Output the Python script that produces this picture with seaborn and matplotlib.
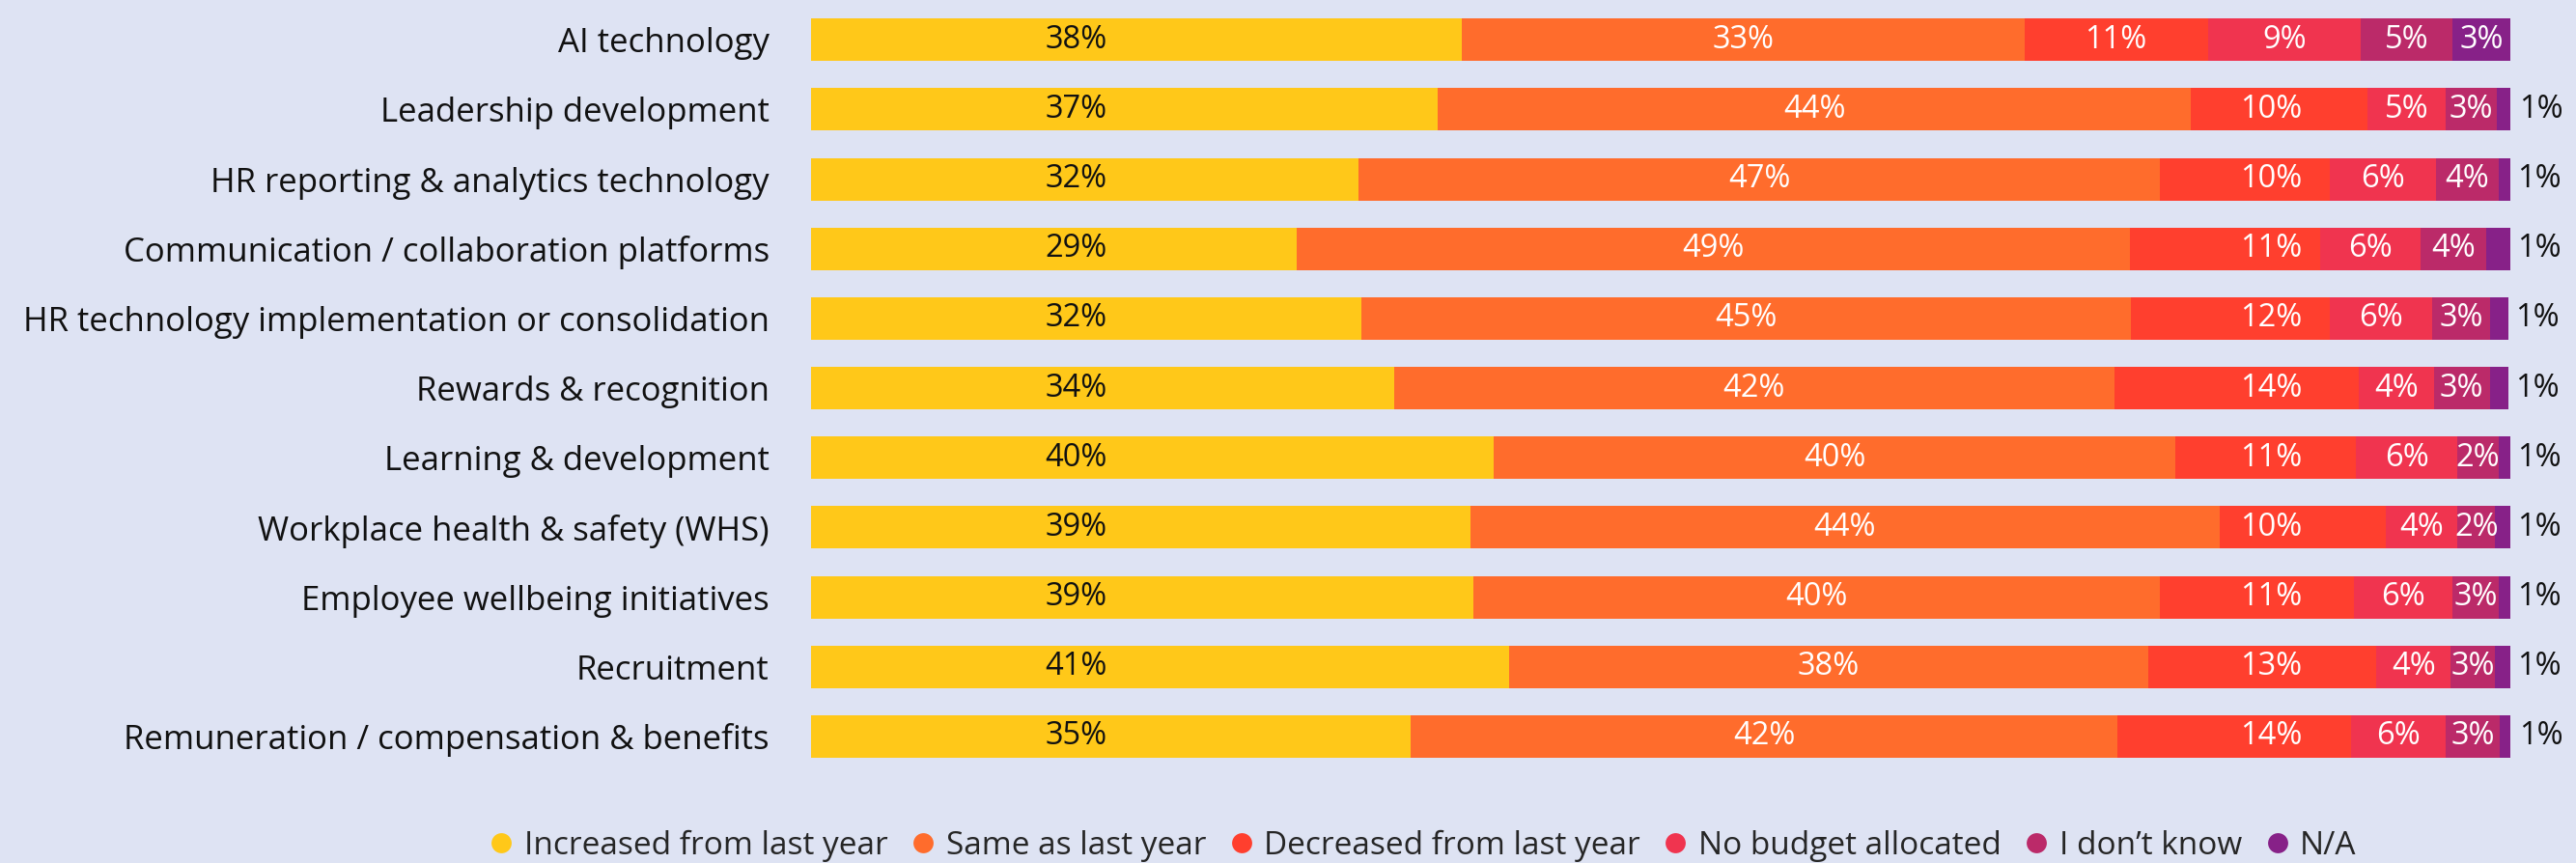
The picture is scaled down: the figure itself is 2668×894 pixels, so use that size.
import matplotlib
matplotlib.use("Agg")
import matplotlib.pyplot as plt
from matplotlib.lines import Line2D
import numpy as np
import pandas as pd
import seaborn as sns

# ---- data -------------------------------------------------------------
categories = [
    "AI technology",
    "Leadership development",
    "HR reporting & analytics technology",
    "Communication / collaboration platforms",
    "HR technology implementation or consolidation",
    "Rewards & recognition",
    "Learning & development",
    "Workplace health & safety (WHS)",
    "Employee wellbeing initiatives",
    "Recruitment",
    "Remuneration / compensation & benefits",
]
series_names = [
    "Increased from last year",
    "Same as last year",
    "Decreased from last year",
    "No budget allocated",
    "I don\u2019t know",
    "N/A",
]
increased = [38.3, 36.9, 32.2, 28.6, 32.4, 34.3, 40.2, 38.8, 39.0, 41.1, 35.3]
same = [33.1, 44.3, 47.2, 49.0, 45.3, 42.4, 40.1, 44.1, 40.4, 37.6, 41.6]
decreased = [10.8, 10.4, 10.0, 11.2, 11.7, 14.4, 10.6, 9.8, 11.4, 13.4, 13.7]
no_budget = [9.0, 4.6, 6.2, 5.9, 6.0, 4.4, 6.0, 4.2, 5.8, 4.4, 5.6]
dont_know = [5.4, 3.0, 3.7, 3.9, 3.4, 3.3, 2.4, 2.2, 2.7, 2.6, 3.2]
not_applicable = [3.4, 0.9, 0.7, 1.4, 1.1, 1.1, 0.7, 0.9, 0.7, 0.9, 0.7]

series_values = [increased, same, decreased, no_budget, dont_know, not_applicable]

# ---- style ------------------------------------------------------------
colors = ["#FFC819", "#FF6C2C", "#FF3F2E", "#F0344F", "#BB2A69", "#872188"]
text_colors = ["#111111", "white", "white", "white", "white", "white"]
bg = "#DEE3F3"
fs_cat = 25
fs_val = 23.5
fs_leg = 24

sns.set_theme(style="white")
plt.rcParams["font.family"] = ["Open Sans", "DejaVu Sans"]

fig = plt.figure(figsize=(26.68, 8.94), dpi=100, facecolor=bg)
ax = fig.add_axes([0.3148, 0.1063, 0.6597, 0.888])
ax.set_facecolor(bg)

vals = np.array(series_values, dtype=float)      # shape (series, categories)
cum = np.cumsum(vals, axis=0)

# stacked bars: draw cumulative totals from the outermost segment inwards
for i in range(len(series_names) - 1, -1, -1):
    df = pd.DataFrame({"category": categories, "total": cum[i]})
    sns.barplot(
        data=df, x="total", y="category", order=categories, orient="h",
        color=colors[i], saturation=1, width=0.61, linewidth=0,
        errorbar=None, ax=ax,
    )

# segment labels; first and third series sit in a shared column when it fits
label_columns = {0: 15.6, 2: 85.9}
for r in range(len(categories)):
    for i in range(len(series_names)):
        v = vals[i, r]
        left = cum[i, r] - v
        right = cum[i, r]
        txt = f"{v:.0f}%"
        if v < 2:
            ax.text(right + 0.4, r, txt, ha="left", va="center",
                    fontsize=fs_val, color="#111111")
            continue
        x = (left + right) / 2
        col = label_columns.get(i)
        if col is not None and left < col < right:
            x = col
        ax.text(x, r, txt, ha="center", va="center", fontsize=fs_val,
                color=text_colors[i])

ax.set_xlim(0, 100)
ax.set_ylim(len(categories) - 0.5, -0.5)
ax.set_xlabel("")
ax.set_ylabel("")
ax.set_xticks([])
ax.tick_params(axis="y", length=0, pad=31, labelsize=fs_cat, labelcolor="#111111")
for s in ax.spines.values():
    s.set_visible(False)

handles = [
    Line2D([], [], marker="o", linestyle="none", markersize=15,
           markerfacecolor=c, markeredgewidth=0)
    for c in colors
]
fig.legend(
    handles, series_names, loc="center", bbox_to_anchor=(0.5525, 0.02),
    ncol=len(series_names), frameon=False, fontsize=fs_leg,
    handlelength=0.7, handletextpad=0.35, columnspacing=0.75,
    borderpad=0, borderaxespad=0,
)

fig.savefig("out.png", dpi=100, facecolor=bg)
